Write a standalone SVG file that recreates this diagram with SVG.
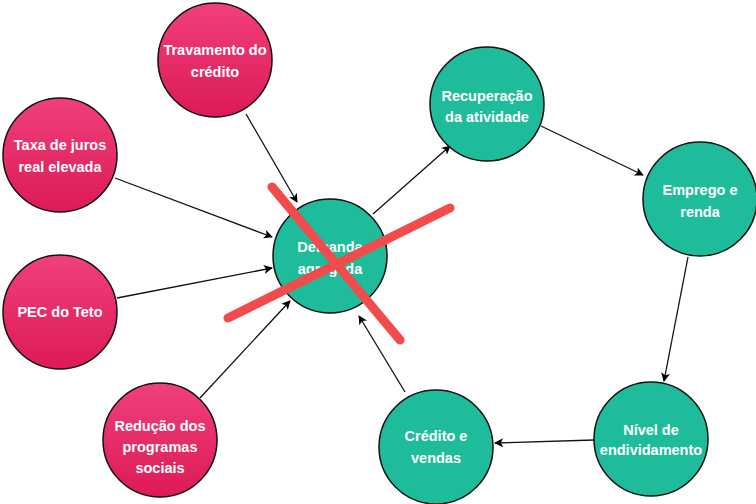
<svg xmlns="http://www.w3.org/2000/svg" width="756" height="504" viewBox="0 0 756 504">
<defs>
<linearGradient id="red" x1="0" y1="0" x2="0" y2="1">
<stop offset="0" stop-color="#f0407a"/>
<stop offset="1" stop-color="#dc1a57"/>
</linearGradient>
<marker id="ah" viewBox="0 0 10 10" refX="9" refY="5" markerWidth="9" markerHeight="9" markerUnits="userSpaceOnUse" orient="auto">
<path d="M0,0 L10,5 L0,10 L2.5,5 Z" fill="#000"/>
</marker>
</defs>
<style>
.red{fill:url(#red);stroke:#111;stroke-width:1.5}
.green{fill:#1fbc9c;stroke:#111;stroke-width:1.5}
text{font-family:"Liberation Sans",Arial,sans-serif;font-weight:bold;font-size:14.5px;fill:#fff;text-anchor:middle}
.c line{stroke:#111;stroke-width:1.3;marker-end:url(#ah)}
.x{stroke:#f24b4b;stroke-width:9;stroke-linecap:round}
</style>
<rect width="756" height="504" fill="#fff"/>
<g class="c" id="connectors">
<line x1="246" y1="114" x2="297" y2="202"/>
<line x1="115" y1="178" x2="272" y2="237"/>
<line x1="117" y1="298" x2="272" y2="268"/>
<line x1="200" y1="398" x2="290" y2="301"/>
<line x1="373" y1="214" x2="450" y2="146"/>
<line x1="541" y1="126" x2="643" y2="175"/>
<line x1="688" y1="257" x2="664" y2="381"/>
<line x1="594" y1="440" x2="495" y2="443"/>
<line x1="405" y1="392" x2="359" y2="316"/>
</g>
<g id="travamento"><circle class="red" cx="215" cy="60" r="57"/><text x="215" y="55">Travamento do</text><text x="215" y="77">crédito</text></g>
<g id="taxa"><circle class="red" cx="60" cy="155" r="57"/><text x="60" y="150">Taxa de juros</text><text x="60" y="172">real elevada</text></g>
<g id="pec"><circle class="red" cx="60" cy="312" r="57"/><text x="60" y="317">PEC do Teto</text></g>
<g id="reducao"><circle class="red" cx="160" cy="440" r="57"/><text x="160" y="431">Redução dos</text><text x="160" y="452">programas</text><text x="160" y="473">sociais</text></g>
<g id="demanda"><circle class="green" cx="330" cy="256" r="57"/><text x="330" y="252">Demanda</text><text x="330" y="274">agregada</text></g>
<g id="recuperacao"><circle class="green" cx="487" cy="104" r="57"/><text x="487" y="101">Recuperação</text><text x="487" y="122">da atividade</text></g>
<g id="emprego"><circle class="green" cx="700" cy="199" r="57"/><text x="700" y="195">Emprego e</text><text x="700" y="217">renda</text></g>
<g id="nivel"><circle class="green" cx="651" cy="439" r="57"/><text x="651" y="435">Nível de</text><text x="651" y="455">endividamento</text></g>
<g id="credito"><circle class="green" cx="436" cy="447" r="57"/><text x="436" y="441">Crédito e</text><text x="436" y="463">vendas</text></g>
<g id="cross">
<line class="x" x1="272" y1="187" x2="400" y2="340"/>
<line class="x" x1="228" y1="318" x2="450" y2="208"/>
</g>
</svg>
